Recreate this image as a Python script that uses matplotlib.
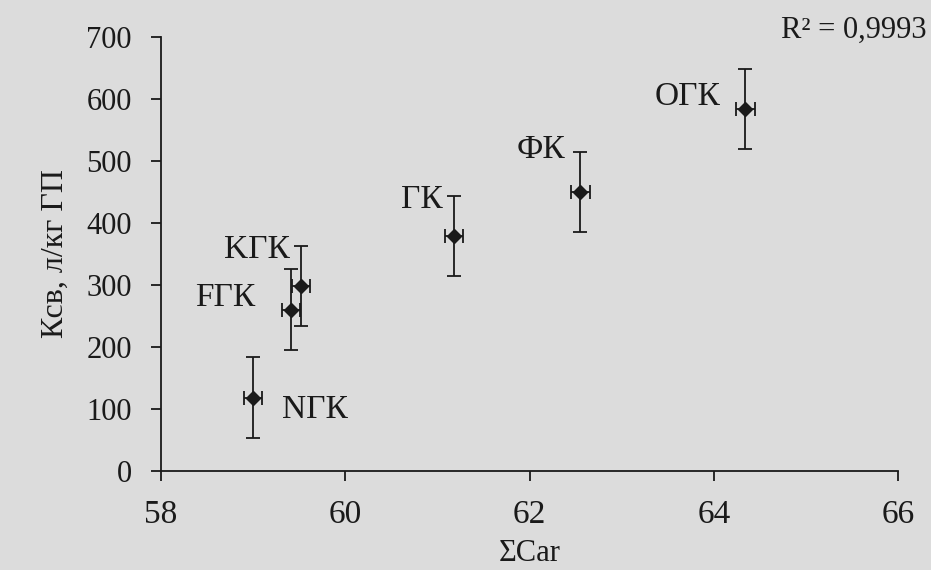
import numpy as np
import matplotlib
matplotlib.use('Agg')
import matplotlib.pyplot as plt

plt.rcParams['font.family'] = ['Liberation Serif', 'DejaVu Serif']

# Data
labels = ['NГК', 'FГК', 'KГК', 'ГК', 'ФК', 'ОГК']
sum_car = [59.0, 59.41, 59.52, 61.18, 62.55, 64.34]
k_sv = [118, 260, 298, 379, 450, 584]
y_err = [65, 65, 65, 65, 65, 65]
x_err = [0.1, 0.1, 0.1, 0.1, 0.1, 0.1]
r2_text = 'R² = 0,9993'

# label placement (pixels from marker, horizontal alignment)
offsets = [(29, -12, 'left'), (-36, 12, 'right'), (-11, 36, 'right'),
           (-11, 36, 'right'), (-15, 42, 'right'), (-25, 12, 'right')]

ink = '#1a1a1a'
bg = '#dcdcdc'
fig = plt.figure(figsize=(9.31, 5.70), dpi=100, facecolor=bg)
ax = fig.add_axes([0.173, 0.174, 0.792, 0.761], facecolor=bg)

ax.errorbar(sum_car, k_sv, yerr=y_err, xerr=x_err, fmt='D', color=ink,
            ms=7, elinewidth=1.3, capsize=5, capthick=1.3)

for lab, x, y, (dx, dy, ha) in zip(labels, sum_car, k_sv, offsets):
    ax.annotate(lab, (x, y), xytext=(dx, dy), textcoords='offset pixels',
                fontsize=24, color=ink, ha=ha, va='center')

ax.set_xlim(58, 66)
ax.set_ylim(0, 700)
ax.set_xticks(np.arange(58, 67, 2))
ax.set_yticks(np.arange(0, 701, 100))
ax.spines['top'].set_visible(False)
ax.spines['right'].set_visible(False)
for s in ('left', 'bottom'):
    ax.spines[s].set_linewidth(1.3)
    ax.spines[s].set_color(ink)
ax.tick_params(colors=ink, length=7, width=1.3, direction='out')
ax.tick_params(axis='x', labelsize=24, pad=14)
ax.tick_params(axis='y', labelsize=22, pad=14)

ax.set_xlabel('ΣCar', fontsize=22, color=ink, labelpad=6)
ax.set_ylabel('Ксв, л/кг ГП', fontsize=23, color=ink, labelpad=12)

fig.text(0.995, 0.946, r2_text, fontsize=22, color=ink, ha='right', va='center')

fig.savefig('out.png', dpi=100, facecolor=bg)
